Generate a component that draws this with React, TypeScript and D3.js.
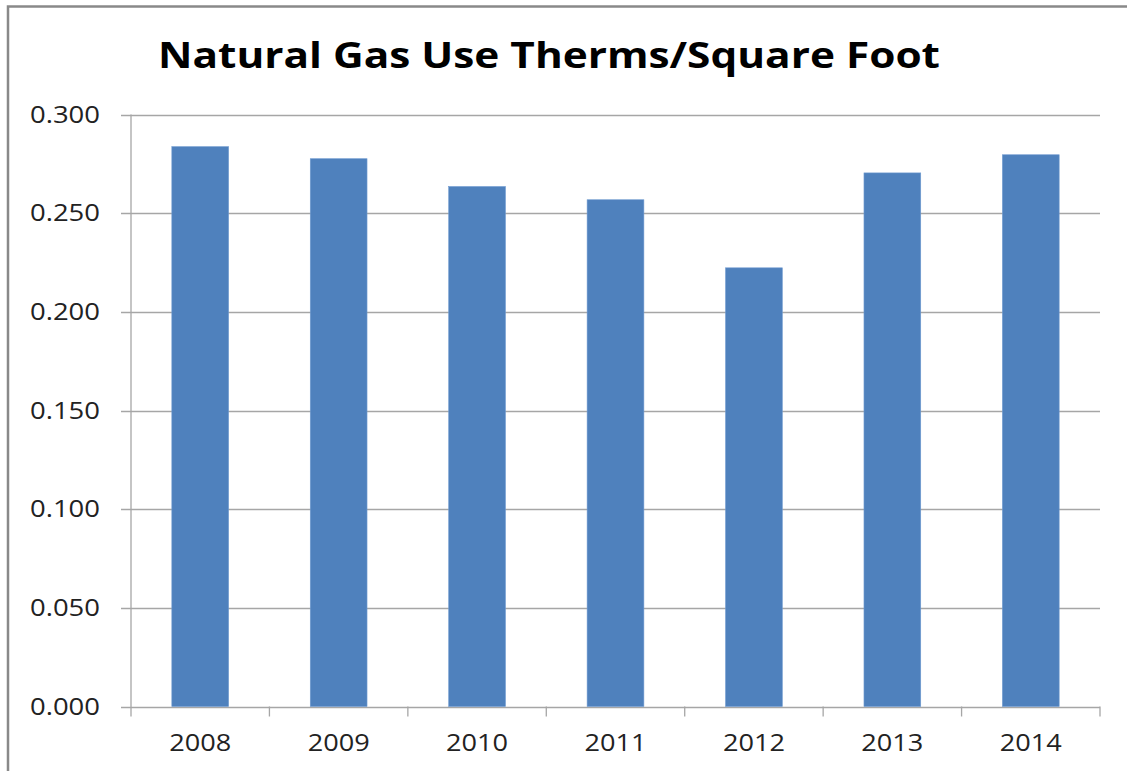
import React from "react";
import * as d3 from "d3";

const years = ["2008", "2009", "2010", "2011", "2012", "2013", "2014"];
const values = [0.2837, 0.2776, 0.2635, 0.2568, 0.2223, 0.2704, 0.2796];
const yTicks = [0, 0.05, 0.1, 0.15, 0.2, 0.25, 0.3];
const title = "Natural Gas Use Therms/Square Foot";

export default function App() {
  const W = 1127, H = 771;
  const left = 131, right = 1100, top = 114.5, bottom = 706.5;
  const x = d3.scaleBand<string>().domain(years).range([left, right]).paddingInner(0.59).paddingOuter(0.295);
  const xc = d3.scaleBand<string>().domain(years).range([left, right]);
  const y = d3.scaleLinear().domain([0, 0.3]).range([bottom, top]);
  const fmt = d3.format(".3f");
  const grid = "#a6a6a6";
  const font = "'Open Sans', sans-serif";
  return (
    <svg width={W} height={H} style={{ position: "absolute", left: 0, top: 0, display: "block", background: "#fff" }}>
      <rect x={8} y={6.5} width={W + 20} height={H + 20} fill="#fff" stroke="#898989" strokeWidth={2.5} />
      <text x={549} y={68} textAnchor="middle" fontFamily={font} fontWeight={700} fontSize={36} fill="#000"
        textLength={782} lengthAdjust="spacingAndGlyphs">{title}</text>
      {yTicks.map((t) => (
        <g key={t}>
          <line x1={left - 10} x2={right} y1={Math.round(y(t)) + 0.5} y2={Math.round(y(t)) + 0.5} stroke={grid} strokeWidth={1.3} />
          <text x={100} y={y(t)} dy="0.36em" textAnchor="end" fontFamily={font} fontSize={23} fill="#222"
            textLength={70} lengthAdjust="spacingAndGlyphs">{fmt(t)}</text>
        </g>
      ))}
      <line x1={left} x2={left} y1={top} y2={bottom + 10} stroke={grid} strokeWidth={1.3} />
      {years.map((yr) => (
        <line key={"t" + yr} x1={(xc(yr) as number) + xc.bandwidth()} x2={(xc(yr) as number) + xc.bandwidth()} y1={bottom} y2={bottom + 10} stroke={grid} strokeWidth={1.3} />
      ))}
      {years.map((yr, i) => (
        <rect key={yr} x={x(yr)} y={y(values[i])} width={x.bandwidth()} height={bottom - y(values[i])} fill="#4f81bd" stroke="#6f9ad0" strokeWidth={0.6} />
      ))}
      {years.map((yr) => (
        <text key={"l" + yr} x={(xc(yr) as number) + xc.bandwidth() / 2} y={743} dy="0.36em" textAnchor="middle" fontFamily={font} fontSize={23.5} fill="#222"
          textLength={62} lengthAdjust="spacingAndGlyphs">{yr}</text>
      ))}
    </svg>
  );
}
